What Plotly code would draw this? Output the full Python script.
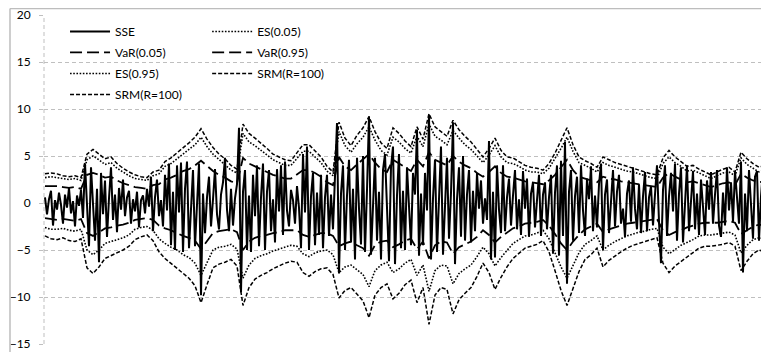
import plotly.graph_objects as go

# ---------------- data ----------------
sse = [
    0.6, -1.2, 0.4, 1.3, -2.4, 0.3, -0.7, 1.1, -0.2, -2.2,
    0.9, -0.5, 1.6, -1.1, 0.2, -2.5, 0.8, -0.3, 1.4, -1.6,
    4.2, -1.0, -4.6, 3.8, -0.6, -4.0, 1.5, -6.3, 3.2, -1.2,
    2.4, -3.6, 0.5, 3.8, -1.8, 0.9, -3.1, 1.6, -0.7, 2.5,
    -1.4, 0.6, 1.3, -2.2, 0.4, -0.9, 1.2, -2.6, 0.3, 0.8,
    -1.1, 1.5, -0.4, 2.8, -3.0, 0.6, 2.5, -1.4, 0.3, -2.5,
    3.0, -0.8, 4.2, -4.5, 1.2, -5.0, 4.0, -1.0, 4.3, -5.2,
    1.5, 4.4, -4.8, -0.6, 3.5, -4.6, 0.8, 4.2, -9.8, 1.0,
    -3.2, 0.6, 2.8, -2.5, 0.4, 3.6, -1.2, -2.8, 0.9, 2.2,
    4.8, -0.7, -3.0, 1.5, -2.4, 0.5, 2.0, 8.0, -9.5, 1.2,
    3.5, -5.0, 0.8, -5.2, 3.0, -1.4, 4.0, -4.6, 0.6, 4.2,
    -5.0, 1.2, 3.5, -3.0, 0.4, -4.2, 3.6, -0.9, 4.0, -3.4,
    4.4, -0.8, -2.5, 1.4, 0.3, -2.2, 1.8, -0.5, -4.8, 5.2,
    -1.0, 6.0, -5.0, 0.7, 3.2, -4.5, 1.1, -3.4, 3.0, -4.8,
    0.6, 3.0, -3.5, 0.9, -2.8, 2.5, 8.5, -7.5, 1.0, 4.0,
    -5.0, 0.8, 4.6, -4.2, 1.5, -6.0, 4.8, -0.6, -4.4, 5.0,
    -5.2, 1.4, 9.2, -5.5, 0.7, 4.8, -4.0, 1.2, -6.0, 3.5,
    5.2, -0.9, -6.2, 3.8, 6.0, -6.5, 0.8, 5.2, -4.8, 1.3,
    -5.0, 3.8, -0.5, -4.5, 3.2, 0.9, 7.8, -5.6, 1.0, -4.5,
    3.2, -0.8, 9.4, -6.0, 0.5, 4.6, -5.2, 1.2, 6.0, -5.5,
    0.7, 4.8, -3.8, 1.1, 8.6, -6.5, 0.4, 3.8, -3.6, 5.0,
    -4.0, 0.9, 3.5, -4.2, 1.3, -3.0, 3.2, -0.6, 2.4, -2.2,
    0.5, -1.8, 6.6, -6.0, 1.2, -5.8, 4.0, -0.7, -3.2, 4.0,
    -3.0, 0.6, 2.6, -2.4, 0.8, 3.5, -2.8, 0.4, -3.4, 3.4,
    -0.6, 2.6, -3.6, 1.0, 2.2, -2.6, 0.3, 3.0, -3.5, 0.9,
    2.2, -2.8, 0.6, 3.0, -5.4, 1.1, 4.0, -5.6, 4.5, -3.5,
    6.5, -8.6, 1.2, 3.5, -4.0, 0.7, 2.8, -3.2, 4.0, -0.8,
    -3.5, 2.6, 0.4, 3.9, -3.0, 0.8, -2.6, 2.0, 4.2, -5.0,
    0.9, 2.5, -3.2, 0.5, 3.5, -2.5, 1.2, 3.0, -2.2, -0.6,
    -3.6, 1.0, 2.4, -2.0, 3.8, -0.6, -2.8, 2.0, -3.2, 0.7,
    3.3, -3.0, 0.6, 1.8, -2.4, 0.9, 4.0, -2.0, -6.4, 1.4,
    4.0, -3.5, 0.7, 3.2, -0.9, 4.2, -4.0, 1.0, 3.8, -4.2,
    0.8, 4.0, -3.0, 0.5, 3.4, -2.8, 1.0, -3.4, 2.5, -0.4,
    -3.4, 2.4, -0.7, 3.3, -2.2, 0.9, 3.5, -2.4, -3.6, 1.1,
    -2.4, 3.8, -0.8, 2.2, -2.0, 3.4, 0.6, -2.2, 4.4, -7.4,
    1.0, -3.0, 3.5, -0.9, -3.8, 2.8, 3.4, -4.0, 0.7, 3.6,
    -3.2, 1.5,
]

srm_upper = [
    3.1, 3.2, 3.1, 2.9, 2.8, 2.9, 2.7, 5.2, 5.7, 5.2,
    4.7, 4.9, 4.2, 3.7, 3.3, 3.0, 2.8, 2.7, 3.3, 3.5,
    4.4, 4.8, 5.3, 5.9, 6.4, 7.0, 7.9, 6.8, 5.9, 5.2,
    4.7, 4.0, 3.6, 8.4, 7.4, 6.9, 6.4, 5.8, 5.2, 4.9,
    4.6, 4.5, 5.4, 6.2, 6.2, 5.6, 4.9, 3.9, 3.3, 8.6,
    6.9, 6.1, 7.2, 8.0, 9.2, 7.6, 6.4, 5.8, 8.0, 7.4,
    6.6, 6.0, 8.1, 6.8, 9.5, 8.1, 7.6, 7.1, 8.8, 7.8,
    7.1, 6.5, 5.7, 4.9, 5.8, 6.9, 5.6, 4.9, 4.8, 4.4,
    4.0, 3.8, 3.7, 3.5, 4.2, 5.3, 6.6, 8.0, 6.2, 4.9,
    4.5, 4.2, 3.8, 4.9, 4.6, 4.3, 4.1, 3.9, 3.7, 3.5,
    3.3, 3.1, 3.0, 4.8, 5.6, 4.9, 4.4, 3.9, 4.0, 3.6,
    3.3, 3.0, 3.3, 3.6, 3.8, 3.3, 5.4, 4.7, 4.2, 3.8,
    4.0,
]

es_upper = [
    2.7, 2.8, 2.7, 2.6, 2.5, 2.6, 2.4, 4.6, 5.0, 4.6,
    4.1, 4.3, 3.7, 3.3, 2.9, 2.6, 2.5, 2.4, 2.9, 3.1,
    3.9, 4.2, 4.7, 5.2, 5.6, 6.2, 7.0, 6.0, 5.2, 4.6,
    4.1, 3.5, 3.2, 7.4, 6.5, 6.1, 5.6, 5.1, 4.6, 4.3,
    4.0, 4.0, 4.8, 5.5, 5.5, 4.9, 4.3, 3.4, 2.9, 7.6,
    6.1, 5.4, 6.3, 7.0, 8.1, 6.7, 5.6, 5.1, 7.0, 6.5,
    5.8, 5.3, 7.1, 6.0, 8.4, 7.1, 6.7, 6.2, 7.7, 6.9,
    6.2, 5.7, 5.0, 4.3, 5.1, 6.1, 4.9, 4.3, 4.2, 3.9,
    3.5, 3.3, 3.3, 3.1, 3.7, 4.7, 5.8, 7.0, 5.5, 4.3,
    4.0, 3.7, 3.3, 4.3, 4.0, 3.8, 3.6, 3.4, 3.3, 3.1,
    2.9, 2.7, 2.6, 4.2, 4.9, 4.3, 3.9, 3.4, 3.5, 3.2,
    2.9, 2.6, 2.9, 3.2, 3.3, 2.9, 4.8, 4.1, 3.7, 3.3,
    3.5,
]

var_upper = [
    1.8, 1.8, 1.8, 1.7, 1.6, 1.7, 1.5, 3.0, 3.2, 3.0,
    2.7, 2.8, 2.4, 2.1, 1.9, 1.7, 1.6, 1.5, 1.9, 2.0,
    2.5, 2.7, 3.0, 3.4, 3.6, 4.0, 4.5, 3.9, 3.4, 3.0,
    2.7, 2.3, 2.1, 4.8, 4.2, 3.9, 3.6, 3.3, 3.0, 2.8,
    2.6, 2.6, 3.1, 3.5, 3.5, 3.2, 2.8, 2.2, 1.9, 4.9,
    3.9, 3.5, 4.1, 4.6, 5.2, 4.3, 3.6, 3.3, 4.6, 4.2,
    3.8, 3.4, 4.6, 3.9, 5.4, 4.6, 4.3, 4.0, 5.0, 4.4,
    4.0, 3.7, 3.2, 2.8, 3.3, 3.9, 3.2, 2.8, 2.7, 2.5,
    2.3, 2.2, 2.1, 2.0, 2.4, 3.0, 3.8, 4.6, 3.5, 2.8,
    2.6, 2.4, 2.2, 2.8, 2.6, 2.5, 2.3, 2.2, 2.1, 2.0,
    1.9, 1.8, 1.7, 2.7, 3.2, 2.8, 2.5, 2.2, 2.3, 2.1,
    1.9, 1.7, 1.9, 2.1, 2.2, 1.9, 3.1, 2.7, 2.4, 2.2,
    2.3,
]

var_lower = [
    -1.6, -1.7, -1.8, -1.7, -1.8, -1.9, -1.7, -3.2, -3.5, -3.1,
    -2.7, -2.6, -2.4, -2.3, -2.1, -1.8, -1.7, -1.6, -1.8, -2.4,
    -2.7, -2.9, -3.2, -3.5, -3.7, -4.0, -4.9, -4.0, -3.2, -3.0,
    -2.9, -2.8, -3.1, -5.0, -4.1, -3.7, -3.5, -3.4, -3.2, -3.1,
    -2.9, -2.9, -2.9, -3.4, -3.6, -3.4, -3.2, -3.2, -3.5, -4.6,
    -4.3, -4.1, -4.5, -4.8, -5.6, -4.5, -4.1, -4.0, -4.7, -4.4,
    -4.0, -3.8, -4.9, -4.1, -5.9, -4.5, -4.1, -4.2, -5.4, -4.7,
    -4.4, -4.1, -3.6, -2.9, -3.4, -4.2, -3.6, -3.1, -2.7, -2.5,
    -2.2, -2.1, -2.0, -1.8, -2.4, -3.3, -4.3, -5.0, -4.1, -3.4,
    -2.8, -2.5, -2.2, -3.1, -2.8, -2.6, -2.4, -2.2, -2.1, -2.0,
    -1.9, -1.8, -1.7, -2.9, -3.4, -3.1, -2.9, -2.6, -2.4, -2.2,
    -2.1, -2.1, -2.1, -2.0, -1.9, -2.1, -3.3, -2.9, -2.5, -2.3,
    -2.4,
]

es_lower = [
    -2.6, -2.8, -2.8, -2.7, -2.9, -3.0, -2.8, -5.0, -5.5, -5.0,
    -4.3, -4.1, -3.9, -3.7, -3.4, -2.8, -2.6, -2.5, -2.9, -3.8,
    -4.3, -4.7, -5.0, -5.5, -5.8, -6.4, -7.7, -6.4, -5.0, -4.7,
    -4.6, -4.4, -4.9, -8.0, -6.6, -5.9, -5.6, -5.4, -5.1, -4.9,
    -4.7, -4.5, -4.6, -5.4, -5.7, -5.3, -5.1, -5.0, -5.5, -7.4,
    -6.8, -6.6, -7.1, -7.6, -8.9, -7.2, -6.6, -6.3, -7.4, -7.0,
    -6.4, -6.0, -7.7, -6.6, -9.4, -7.2, -6.6, -6.7, -8.6, -7.5,
    -7.0, -6.6, -5.7, -4.7, -5.4, -6.7, -5.8, -5.0, -4.3, -3.9,
    -3.5, -3.4, -3.2, -2.9, -3.8, -5.3, -6.8, -8.0, -6.6, -5.3,
    -4.4, -4.0, -3.5, -5.0, -4.5, -4.1, -3.8, -3.5, -3.3, -3.1,
    -3.0, -2.8, -2.7, -4.7, -5.4, -4.9, -4.5, -4.2, -3.9, -3.5,
    -3.4, -3.4, -3.3, -3.2, -3.1, -3.4, -5.3, -4.5, -3.9, -3.7,
    -3.8,
]

srm_lower = [
    -3.5, -3.8, -3.9, -3.7, -4.0, -4.1, -3.8, -6.9, -7.5, -6.8,
    -5.9, -5.6, -5.3, -5.0, -4.6, -3.9, -3.6, -3.4, -4.0, -5.2,
    -5.9, -6.4, -6.9, -7.5, -8.0, -8.8, -10.6, -8.7, -6.9, -6.5,
    -6.3, -6.0, -6.7, -10.9, -9.0, -8.1, -7.7, -7.4, -7.0, -6.7,
    -6.4, -6.2, -6.3, -7.4, -7.8, -7.3, -7.0, -6.9, -7.6, -10.1,
    -9.3, -9.0, -9.7, -10.4, -12.2, -9.8, -9.0, -8.6, -10.2, -9.6,
    -8.7, -8.2, -10.6, -9.0, -12.9, -9.8, -9.0, -9.2, -11.8, -10.3,
    -9.6, -9.0, -7.8, -6.4, -7.4, -9.2, -7.9, -6.8, -5.9, -5.4,
    -4.8, -4.6, -4.4, -4.0, -5.2, -7.2, -9.3, -10.9, -9.0, -7.3,
    -6.0, -5.5, -4.8, -6.8, -6.1, -5.6, -5.2, -4.8, -4.5, -4.3,
    -4.1, -3.9, -3.7, -6.4, -7.4, -6.7, -6.2, -5.7, -5.3, -4.8,
    -4.6, -4.6, -4.5, -4.4, -4.2, -4.6, -7.2, -6.2, -5.4, -5.0,
    -5.2,
]

t_sse = list(range(len(sse)))                      # one step per trading period
t_band = list(range(0, 3 * len(srm_upper), 3))     # risk measures sampled every 3rd period

y_ticks = [-15, -10, -5, 0, 5, 10, 15, 20]

# ---------------- figure ----------------
FONT = "Lato"
fig = go.Figure()

def add(x, y, name, dash, width, legend, group):
    fig.add_trace(go.Scatter(
        x=x, y=y, name=name, mode="lines",
        line=dict(color="black", width=width, dash=dash),
        legend=legend, legendgroup=group, hoverinfo="skip",
    ))

add(t_sse, sse, "SSE", "solid", 2.0, "legend", "g1")
add(t_band, es_lower, "ES(0.05)", "1.6px,1.6px", 1.6, "legend2", "g2")
add(t_band, var_lower, "VaR(0.05)", "12px,5px", 1.8, "legend", "g3")
add(t_band, var_upper, "VaR(0.95)", "12px,5px", 1.8, "legend2", "g4")
add(t_band, es_upper, "ES(0.95)", "1.6px,1.6px", 1.6, "legend", "g5")
add(t_band, srm_upper, "SRM(R=100)", "4px,2px", 1.5, "legend2", "g6")
add(t_band, srm_lower, "SRM(R=100)", "4px,2px", 1.5, "legend", "g7")

legend_common = dict(
    orientation="v", bgcolor="rgba(0,0,0,0)", borderwidth=0,
    font=dict(family=FONT, size=12, color="black"),
    tracegroupgap=2, xanchor="left", yanchor="top", itemwidth=40,
)

# the page adds an 8px body margin, so the figure is 8px smaller and margins are shifted
fig.update_layout(
    width=761, height=344,
    margin=dict(l=36, r=0, t=7, b=8),
    paper_bgcolor="white", plot_bgcolor="white",
    showlegend=True,
    legend=dict(x=0.029, y=0.994, **legend_common),
    legend2=dict(x=0.225, y=0.994, **legend_common),
    xaxis=dict(range=[-0.5, 362], showgrid=False, showticklabels=False,
               zeroline=False, showline=False, ticks=""),
    yaxis=dict(range=[-15, 20], tickvals=y_ticks, showgrid=True,
               gridcolor="#bfbfbf", gridwidth=1, griddash="4px,3px",
               zeroline=False, showline=False, ticks="outside", ticklen=4,
               tickcolor="#bfbfbf", ticklabelstandoff=6, ticklabeloverflow="allow",
               tickfont=dict(family=FONT, size=12, color="black")),
    shapes=[
        dict(type="line", xref="paper", yref="paper", x0=0, x1=0, y0=0, y1=1,
             line=dict(color="#bfbfbf", width=1, dash="4px,3px"), layer="below"),
        dict(type="line", xref="paper", yref="paper", x0=-0.0469, x1=-0.0469,
             y0=1.02, y1=-0.05, line=dict(color="#bdbdbd", width=1.5)),
        dict(type="line", xref="paper", yref="paper", x0=-0.0469, x1=1.01,
             y0=1.02, y1=1.02, line=dict(color="#bdbdbd", width=1.5)),
    ],
)

fig.write_html("out.html")
